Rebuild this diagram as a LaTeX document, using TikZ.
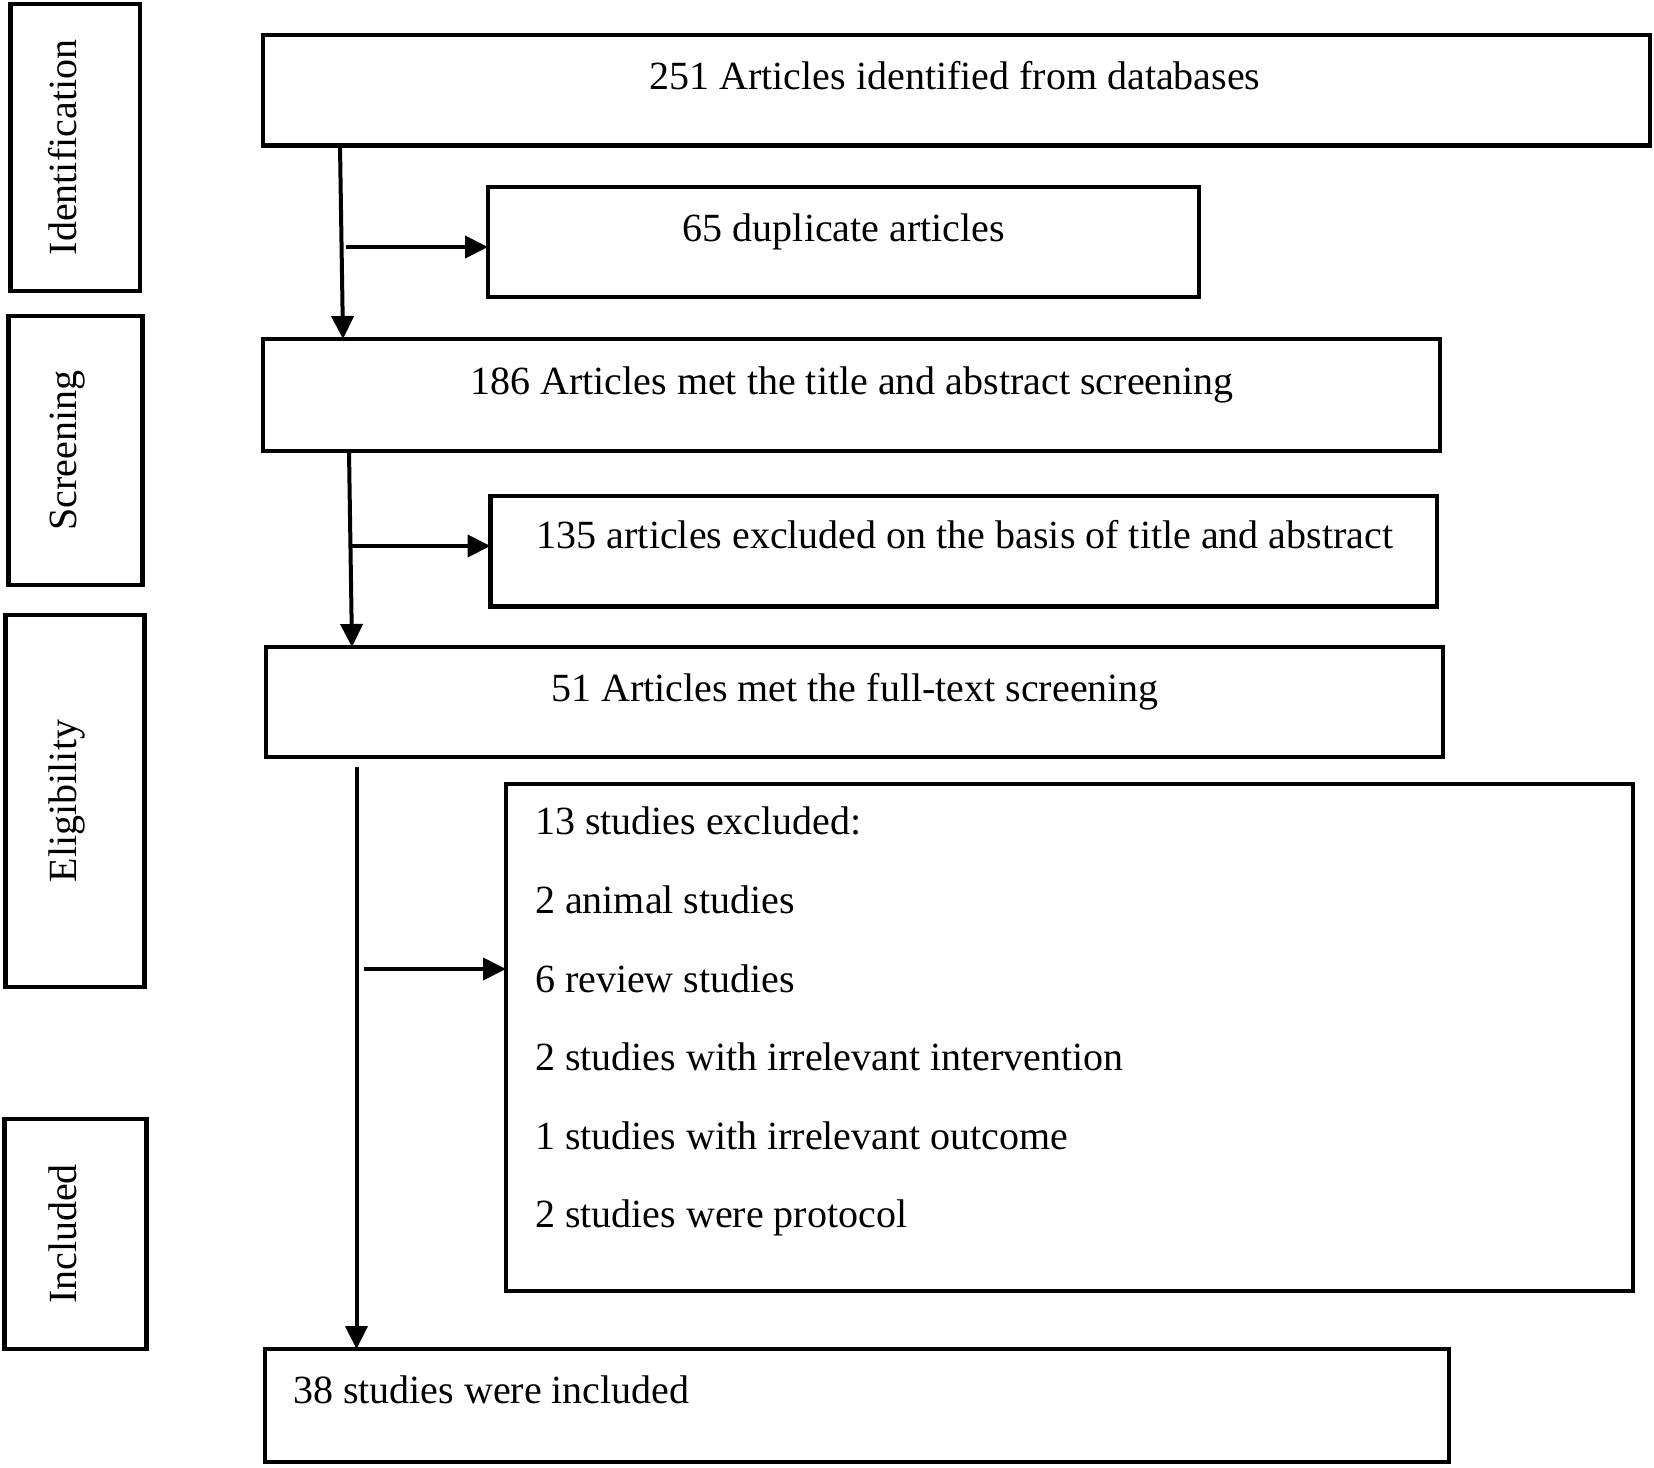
\documentclass[tikz,border=0pt]{standalone}
\usepackage{fontspec}
\setmainfont{Liberation Serif}
\usetikzlibrary{arrows.meta}
\begin{document}
\begin{tikzpicture}[x=0.5pt,y=-0.5pt,
  every node/.style={font=\fontsize{20}{24}\selectfont, inner sep=0pt, outer sep=0pt},
  box/.style={draw, line width=2.3pt, rectangle, anchor=north west},
  stagelbl/.style={rotate=90, anchor=base},
  ctext/.style={anchor=base},
  ltext/.style={anchor=base west},
  arr/.style={line width=2pt, -{Triangle[length=11.5pt,width=11pt]}}]
\useasboundingbox (0,0) rectangle (1654,1467);
% stage boxes
\node[box, minimum width=64.75pt, minimum height=143.5pt] (sid) at (10.5,4) {};
\node[box, minimum width=67pt, minimum height=134.5pt] (sscr) at (8.4,316) {};
\node[box, minimum width=69.6pt, minimum height=186pt] (selg) at (5.3,615) {};
\node[box, minimum width=71.2pt, minimum height=115pt] (sinc) at (4.2,1119) {};
\node[stagelbl] (lid) at (76,147.5) {Identification};
\node[stagelbl] (lscr) at (76,450.5) {Screening};
\node[stagelbl] (lelg) at (76,801) {Eligibility};
\node[stagelbl] (linc) at (76,1234) {Included};
% flow boxes
\node[box, minimum width=693.5pt, minimum height=55.3pt] (b1) at (263,35) {};
\node[box, minimum width=355.5pt, minimum height=55pt] (b2) at (488,187) {};
\node[box, minimum width=588.5pt, minimum height=56pt] (b3) at (263,339) {};
\node[box, minimum width=473.25pt, minimum height=55.25pt] (b4) at (490.5,496) {};
\node[box, minimum width=588.5pt, minimum height=55pt] (b5) at (266,647) {};
\node[box, minimum width=563.5pt, minimum height=253.5pt] (b6) at (506,784) {};
\node[box, minimum width=592pt, minimum height=56.5pt] (b7) at (265,1349) {};
% texts
\node[ctext] (t1) at (955,89) {251 Articles identified from databases};
\node[ctext] (t2) at (844,241) {65 duplicate articles};
\node[ctext] (t3) at (852,394) {186 Articles met the title and abstract screening};
\node[ctext] (t4) at (965,548) {135 articles excluded on the basis of title and abstract};
\node[ctext] (t5) at (855,701) {51 Articles met the full-text screening};
\node[ltext] (t6a) at (535,834) {13 studies excluded:};
\node[ltext] (t6b) at (535,913) {2 animal studies};
\node[ltext] (t6c) at (535,992) {6 review studies};
\node[ltext] (t6d) at (535,1070) {2 studies with irrelevant intervention};
\node[ltext] (t6e) at (535,1149) {1 studies with irrelevant outcome};
\node[ltext] (t6f) at (535,1227) {2 studies were protocol};
\node[ltext] (t7) at (293,1403) {38 studies were included};
% connectors
\draw[arr] ([xshift=38.5pt]b1.south west) -- ([xshift=40pt]b3.north west);
\coordinate (h1) at (346,247);
\draw[arr] (h1) -- (h1 -| b2.west);
\draw[arr] ([xshift=43pt]b3.south west) -- ([xshift=43pt]b5.north west);
\coordinate (h2) at (352,546);
\draw[arr] (h2) -- (h2 -| b4.west);
\coordinate (v3) at (356.5,767);
\draw[arr] (v3) -- (v3 |- b7.north);
\coordinate (h3) at (364,969);
\draw[arr] (h3) -- (h3 -| b6.west);
\end{tikzpicture}
\end{document}
